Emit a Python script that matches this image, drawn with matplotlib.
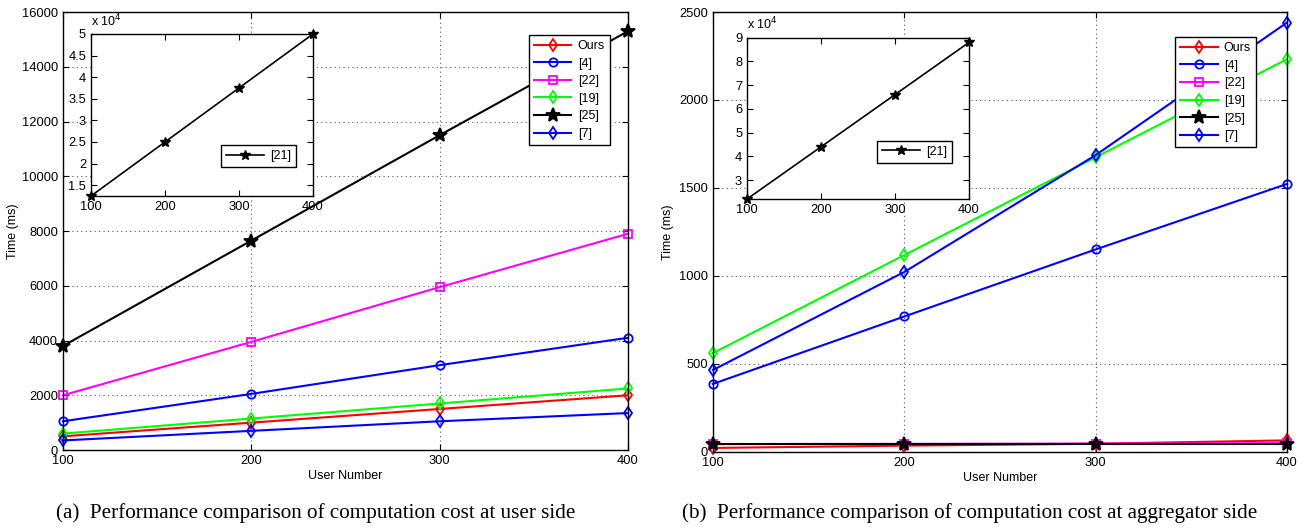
import matplotlib
matplotlib.use("Agg")
import matplotlib.pyplot as plt
from matplotlib.ticker import FuncFormatter

plt.rcParams['font.family'] = ['Liberation Sans', 'DejaVu Sans']

# %% data
users = [100, 200, 300, 400]
series_names = ["Ours", "[4]", "[22]", "[19]", "[25]", "[7]"]

# user side (ms)
user_ours = [500, 1000, 1500, 2000]
user_4 = [1050, 2050, 3100, 4100]
user_22 = [2000, 3950, 5950, 7900]
user_19 = [600, 1150, 1700, 2250]
user_25 = [3800, 7650, 11500, 15300]
user_7 = [350, 700, 1050, 1350]
user_21 = [12500, 25000, 37500, 50000]

# aggregator side (ms)
agg_ours = [23, 36, 47, 66]
agg_4 = [387, 770, 1151, 1523]
agg_22 = [45, 46, 48, 50]
agg_19 = [562, 1119, 1675, 2232]
agg_25 = [43, 43, 43, 43]
agg_7 = [466, 1023, 1687, 2440]
agg_21 = [22000, 44000, 66000, 88000]

STYLES = {
    "Ours": dict(color=(1, 0, 0), marker="d", mfc="none"),
    "[4]": dict(color=(0, 0, 1), marker="o", mfc="none"),
    "[22]": dict(color=(1, 0, 1), marker="s", mfc="none"),
    "[19]": dict(color=(0, 1, 0), marker="d", mfc="none"),
    "[25]": dict(color="k", marker="*", mfc="k", ms=10),
    "[7]": dict(color=(0, 0, 1), marker="d", mfc="none"),
}

FS = 9.3
fig = plt.figure(figsize=(13.09, 5.31), dpi=100)


def style_axes(ax, grid=True):
    ax.tick_params(direction="in", top=True, right=True, length=4, labelsize=FS, width=0.8)
    for s in ax.spines.values():
        s.set_linewidth(1.0)
        s.set_zorder(5)
    if grid:
        ax.grid(True, linestyle=(0, (1, 3)), color="0.35", linewidth=0.8)
        ax.set_axisbelow(True)


def main_plot(rect, data, ymax, ystep, leg_anchor, ylab_x):
    ax = fig.add_axes(rect)
    handles = []
    for name, vals in zip(series_names, data):
        st = dict(STYLES[name])
        ms = st.pop("ms", 6)
        h, = ax.plot(users, vals, lw=1.5, ms=ms, mew=1.3, label=name, clip_on=False, **st)
        handles.append(h)
    ax.set_xlim(100, 400)
    ax.set_ylim(0, ymax)
    ax.set_xticks(users)
    ax.set_yticks(range(0, ymax + 1, ystep))
    style_axes(ax)
    ax.set_xlabel("User Number", fontsize=FS - 0.3)
    ax.set_ylabel("Time (ms)", fontsize=FS - 0.3)
    ax.xaxis.set_label_coords(0.5, -0.046)
    ax.yaxis.set_label_coords(ylab_x, 0.5)
    leg = ax.legend(handles=handles, loc="upper right", bbox_to_anchor=leg_anchor,
                    fontsize=9, fancybox=False, framealpha=1, edgecolor="k",
                    handlelength=3.0, borderpad=0.4, labelspacing=0.45, handletextpad=0.5,
                    borderaxespad=0)
    leg.get_frame().set_linewidth(1.0)
    leg.set_zorder(10)
    return ax


def inset_plot(rect, vals, ylim, yticks, leg_anchor):
    ax = fig.add_axes(rect)
    ax.plot(users, vals, color="k", lw=1.2, marker="*", ms=7, mfc="k", label="[21]",
            clip_on=False)
    ax.set_xlim(100, 400)
    ax.set_ylim(*ylim)
    ax.set_xticks(users)
    ax.set_yticks(yticks)
    ax.yaxis.set_major_formatter(FuncFormatter(lambda v, p: f"{v / 1e4:g}"))
    style_axes(ax, grid=False)
    ax.text(0.0, 1.03, r"x 10$^4$", transform=ax.transAxes, fontsize=FS - 0.3,
            ha="left", va="bottom")
    leg = ax.legend(loc="lower right", bbox_to_anchor=leg_anchor, fontsize=9,
                    fancybox=False, framealpha=1, edgecolor="k", handlelength=3.0,
                    borderpad=0.4, handletextpad=0.5, borderaxespad=0)
    leg.get_frame().set_linewidth(1.0)
    return ax


# %% (a) user side
main_plot([0.0481, 0.1525, 0.4317, 0.8249],
          [user_ours, user_4, user_22, user_19, user_25, user_7],
          16000, 2000, (0.968, 0.9475), -0.078)
inset_plot([0.0695, 0.6309, 0.1696, 0.3051], user_21, (12500, 50000),
           [15000, 20000, 25000, 30000, 35000, 40000, 45000, 50000], (0.923, 0.179))

# %% (b) aggregator side
main_plot([0.5447, 0.1488, 0.4385, 0.8286],
          [agg_ours, agg_4, agg_22, agg_19, agg_25, agg_7],
          2500, 500, (0.946, 0.943), -0.068)
inset_plot([0.5707, 0.6252, 0.1696, 0.304], agg_21, (22000, 90000),
           [30000, 40000, 50000, 60000, 70000, 80000, 90000], (0.923, 0.224))

# %% captions
fig.text(0.0428, 0.034, "(a)  Performance comparison of computation cost at user side",
         family=["Liberation Serif", "DejaVu Serif"], fontsize=15.2, ha="left", va="center")
fig.text(0.521, 0.034, "(b)  Performance comparison of computation cost at aggregator side",
         family=["Liberation Serif", "DejaVu Serif"], fontsize=15.2, ha="left", va="center")

fig.savefig("out.png", dpi=100)
